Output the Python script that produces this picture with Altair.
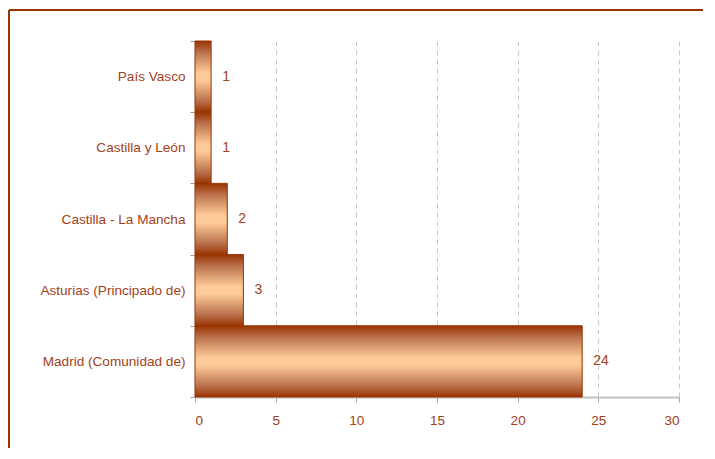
import altair as alt
import pandas as pd

categories = ["País Vasco", "Castilla y León", "Castilla - La Mancha",
              "Asturias (Principado de)", "Madrid (Comunidad de)"]
values = [1, 1, 2, 3, 24]
x_ticks = [0, 5, 10, 15, 20, 25, 30]

BROWN = "#993300"
TEXT = "#A3421A"
df = pd.DataFrame({"region": categories, "n": values})

grad = alt.Gradient(
    gradient="linear",
    stops=[alt.GradientStop(color="#993300", offset=0),
           alt.GradientStop(color="#B86E4A", offset=0.15),
           alt.GradientStop(color="#FFCC99", offset=0.45),
           alt.GradientStop(color="#FFCC99", offset=0.55),
           alt.GradientStop(color="#B86E4A", offset=0.85),
           alt.GradientStop(color="#993300", offset=1)],
    x1=0, x2=0, y1=0, y2=1,
)

y_enc = alt.Y("region:N", sort=categories,
              scale=alt.Scale(paddingInner=0, paddingOuter=0),
              axis=alt.Axis(title=None, tickBand="extent", grid=False,
                            domainColor="#8C96A0", tickColor="#A0A0A0",
                            tickSize=5, labelPadding=5,
                            labelColor=TEXT, labelFontSize=13.6,
                            labelFont="Liberation Sans"))
x_enc = alt.X("n:Q", scale=alt.Scale(domain=[0, 30], nice=False),
              axis=alt.Axis(title=None, values=x_ticks, grid=True,
                            gridDash=[5, 4], gridColor="#C8C8C8",
                            domainColor="#C0C0C0", domainWidth=2,
                            tickColor="#A0A0A0", tickSize=5, labelPadding=11,
                            labelColor=TEXT, labelFontSize=13.6,
                            labelFont="Liberation Sans"))

bars = alt.Chart(df).mark_bar(color=grad, stroke=BROWN, strokeWidth=1).encode(
    x=x_enc, y=y_enc)

labels = alt.Chart(df).mark_text(align="left", dx=11, color=TEXT, fontSize=14,
                                 font="Liberation Sans").encode(
    x="n:Q", y=alt.Y("region:N", sort=categories), text="n:Q")

one = pd.DataFrame({"k": [0]})
top_line = alt.Chart(one).mark_rule(color=BROWN, strokeWidth=2).encode(
    x=alt.value(-186), x2=alt.value(700), y=alt.value(-31))
left_line = alt.Chart(one).mark_rule(color=BROWN, strokeWidth=2).encode(
    x=alt.value(-186), y=alt.value(-31), y2=alt.value(600))

chart = alt.layer(bars, labels, top_line, left_line).properties(
    width=484, height=356,
    padding={"left": 187, "top": 33, "right": 24, "bottom": 51},
    autosize=alt.AutoSizeParams(type="none"),
).configure_view(stroke=None)

chart.save("out.html", embed_options={"renderer": "svg", "actions": False})
